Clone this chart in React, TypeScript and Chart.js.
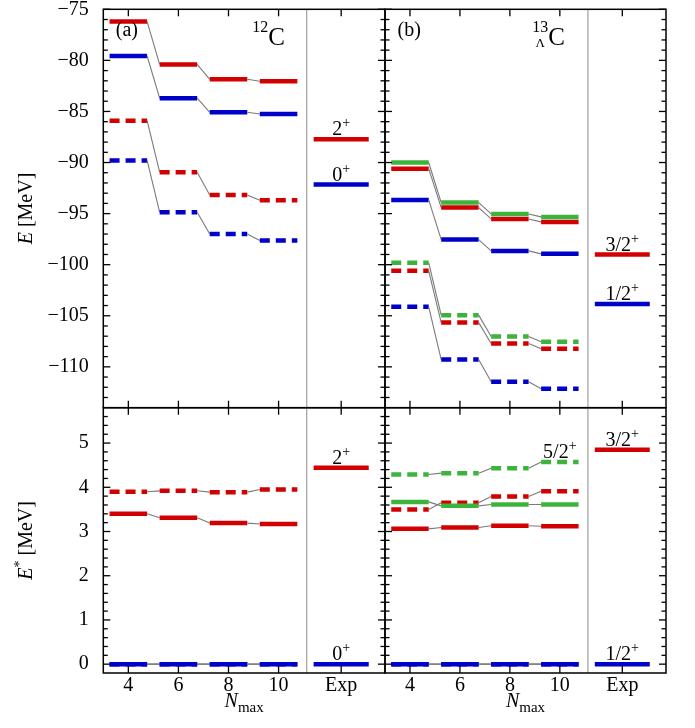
import React, { useEffect, useRef } from "react";
import { Chart, registerables } from "chart.js";

Chart.register(...registerables);

// ---------------- categories / ticks ----------------
const NMAX = [4, 6, 8, 10];
const EXP_POS = 12.5;
const X_TICK_VALUES = [4, 6, 8, 10, EXP_POS];
const X_TICK_LABELS = ["4", "6", "8", "10", "Exp"];
const E_TICKS = [-75, -80, -85, -90, -95, -100, -105, -110];
const ESTAR_TICKS = [0, 1, 2, 3, 4, 5];

// ---------------- (a) 12C : E [MeV] ----------------
const C12_E_2P = [-76.2, -80.4, -81.85, -82.05];
const C12_E_0P = [-79.57, -83.7, -85.08, -85.25];
const C12_E_2P_DASH = [-85.9, -90.95, -93.17, -93.7];
const C12_E_0P_DASH = [-89.8, -94.86, -97.0, -97.64];
const C12_EXP_E_2P = -87.72;
const C12_EXP_E_0P = -92.16;

// ---------------- (a) 12C : E* [MeV] ----------------
const C12_EX_2P = [3.4, 3.31, 3.19, 3.17];
const C12_EX_2P_DASH = [3.9, 3.92, 3.89, 3.95];
const C12_EX_0P = [0, 0, 0, 0];
const C12_EX_0P_DASH = [0, 0, 0, 0];
const C12_EXP_EX_2P = 4.44;
const C12_EXP_EX_0P = 0;

// ---------------- (b) 13ΛC : E [MeV] ----------------
const L13C_E_5_2 = [-90.0, -93.92, -95.03, -95.32];
const L13C_E_3_2 = [-90.6, -94.41, -95.52, -95.81];
const L13C_E_1_2 = [-93.66, -97.54, -98.65, -98.94];
const L13C_E_5_2_DASH = [-99.82, -104.94, -107.03, -107.55];
const L13C_E_3_2_DASH = [-100.6, -105.67, -107.72, -108.24];
const L13C_E_1_2_DASH = [-104.13, -109.29, -111.47, -112.15];
const L13C_EXP_E_3_2 = -99.0;
const L13C_EXP_E_1_2 = -103.84;

// ---------------- (b) 13ΛC : E* [MeV] ----------------
const L13C_EX_5_2 = [3.67, 3.58, 3.61, 3.61];
const L13C_EX_3_2 = [3.06, 3.09, 3.13, 3.12];
const L13C_EX_1_2 = [0, 0, 0, 0];
const L13C_EX_5_2_DASH = [4.29, 4.32, 4.43, 4.57];
const L13C_EX_3_2_DASH = [3.5, 3.65, 3.79, 3.91];
const L13C_EX_1_2_DASH = [0, 0, 0, 0];
const L13C_EXP_EX_3_2 = 4.85;
const L13C_EXP_EX_1_2 = 0;

// ---------------- styles ----------------
const FONT = "'Liberation Serif', 'Times New Roman', serif";
const RED = "#d20000";
const BLUE = "#0000c8";
const GREEN = "#3cb43c";
const LINK = "#7a7a7a";
const SEP = "#8c8c8c";
const BAR_W = 4.5;
const LINK_W = 1.1;
const DASH = [10, 6];
const HALF = 0.75;
const EXP_HALF = 1.1;
const X_MIN = 3;
const X_MAX = 14.25;
const X_SEPARATOR = 11.125;

const W = 695;
const H = 728;
const L0 = 103.3;
const LM = 385;
const L1 = 666;
const T0 = 9.3;
const TM = 407.7;
const T1 = 673;

type Part = { t: string; size: number; italic?: boolean; dy?: number };

function fontOf(p: Part) {
  return `${p.italic ? "italic " : ""}${p.size}px ${FONT}`;
}

function drawRich(ctx: CanvasRenderingContext2D, parts: Part[], x: number, y: number, align: "left" | "center" | "right") {
  let w = 0;
  for (const p of parts) {
    ctx.font = fontOf(p);
    w += ctx.measureText(p.t).width;
  }
  let cx = align === "center" ? x - w / 2 : align === "right" ? x - w : x;
  ctx.textAlign = "left";
  ctx.textBaseline = "alphabetic";
  ctx.fillStyle = "#000";
  for (const p of parts) {
    ctx.font = fontOf(p);
    ctx.fillText(p.t, cx, y + (p.dy || 0));
    cx += ctx.measureText(p.t).width;
  }
}

function levelDataset(values: number[], color: string, dashed: boolean) {
  const data: { x: number; y: number }[] = [];
  values.forEach((v, i) => {
    data.push({ x: NMAX[i] - HALF, y: v });
    data.push({ x: NMAX[i] + HALF, y: v });
  });
  const isBar = (c: any) => c.p0DataIndex % 2 === 0;
  return {
    data,
    borderColor: color,
    borderWidth: BAR_W,
    borderDash: dashed ? DASH : [],
    pointRadius: 0,
    pointHoverRadius: 0,
    tension: 0,
    fill: false,
    segment: {
      borderColor: (c: any) => (isBar(c) ? color : LINK),
      borderWidth: (c: any) => (isBar(c) ? BAR_W : LINK_W),
      borderDash: (c: any) => (isBar(c) && dashed ? DASH : []),
    },
  };
}

function expDataset(value: number, color: string) {
  return {
    data: [
      { x: EXP_POS - EXP_HALF, y: value },
      { x: EXP_POS + EXP_HALF, y: value },
    ],
    borderColor: color,
    borderWidth: BAR_W,
    pointRadius: 0,
    pointHoverRadius: 0,
    tension: 0,
    fill: false,
  };
}

type Ann = { x: number; y: number; main: string };

interface PanelCfg {
  rect: [number, number, number, number];
  yMin: number;
  yMax: number;
  yMajor: number[];
  yMinorStep: number;
  showY: boolean;
  showX: boolean;
  datasets: any[];
  anns: Ann[];
  corner: string;
  nucleus: string;
  yTitle: string;
}

function minorValues(min: number, max: number, step: number, majors: number[]) {
  const out: number[] = [];
  const n = Math.round((max - min) / step);
  for (let k = 1; k < n; k++) {
    const v = Math.round((min + k * step) * 1000) / 1000;
    if (!majors.some((m) => Math.abs(m - v) < 1e-6)) out.push(v);
  }
  return out;
}

function makePanel(canvas: HTMLCanvasElement, cfg: PanelCfg) {
  const [left, top, right, bottom] = cfg.rect;
  const minors = minorValues(cfg.yMin, cfg.yMax, cfg.yMinorStep, cfg.yMajor);
  const zeroPad = (s: any) => {
    s.paddingLeft = 0;
    s.paddingRight = 0;
    s.paddingTop = 0;
    s.paddingBottom = 0;
  };
  const plugin = {
    id: "levelFrame",
    afterDatasetsDraw(chart: any) {
      const ctx: CanvasRenderingContext2D = chart.ctx;
      const a = chart.chartArea;
      const xs = chart.scales.x;
      const ys = chart.scales.y;
      ctx.save();
      const ln = (x1: number, y1: number, x2: number, y2: number) => {
        ctx.beginPath();
        ctx.moveTo(x1, y1);
        ctx.lineTo(x2, y2);
        ctx.stroke();
      };
      ctx.strokeStyle = SEP;
      ctx.lineWidth = 1;
      const sx = xs.getPixelForValue(X_SEPARATOR);
      ln(sx, a.top, sx, a.bottom);
      ctx.strokeStyle = "#000";
      ctx.lineWidth = 1.5;
      ctx.strokeRect(a.left, a.top, a.right - a.left, a.bottom - a.top);
      ctx.lineWidth = 1.3;
      for (const v of cfg.yMajor) {
        const py = ys.getPixelForValue(v);
        ln(a.left, py, a.left + 7, py);
        ln(a.right, py, a.right - 7, py);
      }
      for (const v of minors) {
        const py = ys.getPixelForValue(v);
        ln(a.left, py, a.left + 4.5, py);
        ln(a.right, py, a.right - 4.5, py);
      }
      for (const v of X_TICK_VALUES) {
        const px = xs.getPixelForValue(v);
        ln(px, a.bottom, px, a.bottom - 7);
        ln(px, a.top, px, a.top + 7);
      }
      for (const an of cfg.anns) {
        const px = xs.getPixelForValue(an.x);
        const py = ys.getPixelForValue(an.y) - BAR_W / 2 - 1.5;
        drawRich(ctx, [{ t: an.main, size: 20 }, { t: "+", size: 14, dy: -8 }], px, py, "center");
      }
      if (cfg.corner) drawRich(ctx, [{ t: cfg.corner, size: 20 }], a.left + 12.5, a.top + 26.5, "left");
      if (cfg.nucleus === "12C") {
        drawRich(ctx, [{ t: "12", size: 16, dy: -13.5 }, { t: "C", size: 25 }], a.left + 181.7, a.top + 35.7, "right");
      } else if (cfg.nucleus === "13LC") {
        ctx.font = `25px ${FONT}`;
        const cw = ctx.measureText("C").width;
        const cx = a.left + 180;
        drawRich(ctx, [{ t: "C", size: 25 }], cx, a.top + 35.7, "right");
        ctx.font = `16px ${FONT}`;
        const nw = ctx.measureText("13").width;
        drawRich(ctx, [{ t: "13", size: 16 }], cx - cw, a.top + 22.2, "right");
        drawRich(ctx, [{ t: "Λ", size: 13 }], cx - cw - nw / 2, a.top + 37.4, "center");
      }
      if (cfg.yTitle) {
        ctx.save();
        ctx.translate(a.left - 71, (a.top + a.bottom) / 2);
        ctx.rotate(-Math.PI / 2);
        const parts: Part[] =
          cfg.yTitle === "E"
            ? [{ t: "E", size: 20, italic: true }, { t: " [MeV]", size: 20 }]
            : [{ t: "E", size: 20, italic: true }, { t: "*", size: 14, dy: -8 }, { t: " [MeV]", size: 20 }];
        drawRich(ctx, parts, 0, 0, "center");
        ctx.restore();
      }
      if (cfg.showX) {
        drawRich(
          ctx,
          [{ t: "N", size: 20, italic: true }, { t: "max", size: 15, dy: 5 }],
          (a.left + a.right) / 2,
          a.bottom + 33.7,
          "center"
        );
      }
      ctx.restore();
    },
  };

  const xBoxHeight = H - bottom;
  return new Chart(canvas, {
    type: "line",
    data: { datasets: cfg.datasets },
    plugins: [plugin],
    options: {
      animation: false,
      responsive: false,
      events: [],
      layout: { padding: { left: 0, top, right: W - right, bottom: 0 } },
      plugins: { legend: { display: false }, tooltip: { enabled: false } },
      scales: {
        x: {
          type: "linear",
          min: X_MIN,
          max: X_MAX,
          grid: { display: false },
          border: { display: false },
          ticks: {
            display: cfg.showX,
            autoSkip: false,
            maxRotation: 0,
            padding: -6,
            color: "#000",
            font: { family: FONT, size: 20, lineHeight: 1.1 },
            callback: (v: any) => X_TICK_LABELS[X_TICK_VALUES.indexOf(Number(v))] ?? "",
          },
          afterBuildTicks: (s: any) => {
            s.ticks = X_TICK_VALUES.map((v) => ({ value: v }));
          },
          afterFit: (s: any) => {
            s.height = xBoxHeight;
            zeroPad(s);
          },
        },
        y: {
          type: "linear",
          min: cfg.yMin,
          max: cfg.yMax,
          grid: { display: false },
          border: { display: false },
          ticks: {
            display: cfg.showY,
            autoSkip: false,
            padding: 6.5,
            color: "#000",
            font: { family: FONT, size: 20 },
            callback: (v: any) => (Number(v) < 0 ? "\u2212" + Math.abs(Number(v)) : String(v)),
          },
          afterBuildTicks: (s: any) => {
            s.ticks = cfg.yMajor.map((v) => ({ value: v }));
          },
          afterFit: (s: any) => {
            s.width = left;
            zeroPad(s);
          },
        },
      },
    } as any,
  });
}

const PANELS: PanelCfg[] = [
  {
    rect: [L0, T0, LM, TM],
    yMin: -114,
    yMax: -75,
    yMajor: E_TICKS,
    yMinorStep: 1,
    showY: true,
    showX: false,
    datasets: [
      levelDataset(C12_E_2P, RED, false),
      levelDataset(C12_E_0P, BLUE, false),
      levelDataset(C12_E_2P_DASH, RED, true),
      levelDataset(C12_E_0P_DASH, BLUE, true),
      expDataset(C12_EXP_E_2P, RED),
      expDataset(C12_EXP_E_0P, BLUE),
    ],
    anns: [
      { x: EXP_POS, y: C12_EXP_E_2P, main: "2" },
      { x: EXP_POS, y: C12_EXP_E_0P, main: "0" },
    ],
    corner: "(a)",
    nucleus: "12C",
    yTitle: "E",
  },
  {
    rect: [LM, T0, L1, TM],
    yMin: -114,
    yMax: -75,
    yMajor: E_TICKS,
    yMinorStep: 1,
    showY: false,
    showX: false,
    datasets: [
      levelDataset(L13C_E_5_2, GREEN, false),
      levelDataset(L13C_E_3_2, RED, false),
      levelDataset(L13C_E_1_2, BLUE, false),
      levelDataset(L13C_E_5_2_DASH, GREEN, true),
      levelDataset(L13C_E_3_2_DASH, RED, true),
      levelDataset(L13C_E_1_2_DASH, BLUE, true),
      expDataset(L13C_EXP_E_3_2, RED),
      expDataset(L13C_EXP_E_1_2, BLUE),
    ],
    anns: [
      { x: EXP_POS, y: L13C_EXP_E_3_2, main: "3/2" },
      { x: EXP_POS, y: L13C_EXP_E_1_2, main: "1/2" },
    ],
    corner: "(b)",
    nucleus: "13LC",
    yTitle: "",
  },
  {
    rect: [L0, TM, LM, T1],
    yMin: -0.2,
    yMax: 5.8,
    yMajor: ESTAR_TICKS,
    yMinorStep: 0.2,
    showY: true,
    showX: true,
    datasets: [
      levelDataset(C12_EX_0P, BLUE, false),
      levelDataset(C12_EX_0P_DASH, BLUE, true),
      levelDataset(C12_EX_2P, RED, false),
      levelDataset(C12_EX_2P_DASH, RED, true),
      expDataset(C12_EXP_EX_2P, RED),
      expDataset(C12_EXP_EX_0P, BLUE),
    ],
    anns: [
      { x: EXP_POS, y: C12_EXP_EX_2P, main: "2" },
      { x: EXP_POS, y: C12_EXP_EX_0P, main: "0" },
    ],
    corner: "",
    nucleus: "",
    yTitle: "Estar",
  },
  {
    rect: [LM, TM, L1, T1],
    yMin: -0.2,
    yMax: 5.8,
    yMajor: ESTAR_TICKS,
    yMinorStep: 0.2,
    showY: false,
    showX: true,
    datasets: [
      levelDataset(L13C_EX_1_2, BLUE, false),
      levelDataset(L13C_EX_1_2_DASH, BLUE, true),
      levelDataset(L13C_EX_5_2, GREEN, false),
      levelDataset(L13C_EX_3_2, RED, false),
      levelDataset(L13C_EX_5_2_DASH, GREEN, true),
      levelDataset(L13C_EX_3_2_DASH, RED, true),
      expDataset(L13C_EXP_EX_3_2, RED),
      expDataset(L13C_EXP_EX_1_2, BLUE),
    ],
    anns: [
      { x: EXP_POS, y: L13C_EXP_EX_3_2, main: "3/2" },
      { x: EXP_POS, y: L13C_EXP_EX_1_2, main: "1/2" },
      { x: NMAX[3], y: L13C_EX_5_2_DASH[3], main: "5/2" },
    ],
    corner: "",
    nucleus: "",
    yTitle: "",
  },
];

export default function App() {
  const r0 = useRef<HTMLCanvasElement>(null);
  const r1 = useRef<HTMLCanvasElement>(null);
  const r2 = useRef<HTMLCanvasElement>(null);
  const r3 = useRef<HTMLCanvasElement>(null);
  const refs = [r0, r1, r2, r3];
  useEffect(() => {
    const charts = PANELS.map((cfg, i) => makePanel(refs[i].current as HTMLCanvasElement, cfg));
    return () => charts.forEach((c) => c.destroy());
  }, []);
  return (
    <div style={{ position: "absolute", left: 0, top: 0, width: W, height: H, background: "#fff" }}>
      {refs.map((r, i) => (
        <canvas key={i} ref={r} width={W} height={H} style={{ position: "absolute", left: 0, top: 0 }} />
      ))}
    </div>
  );
}
